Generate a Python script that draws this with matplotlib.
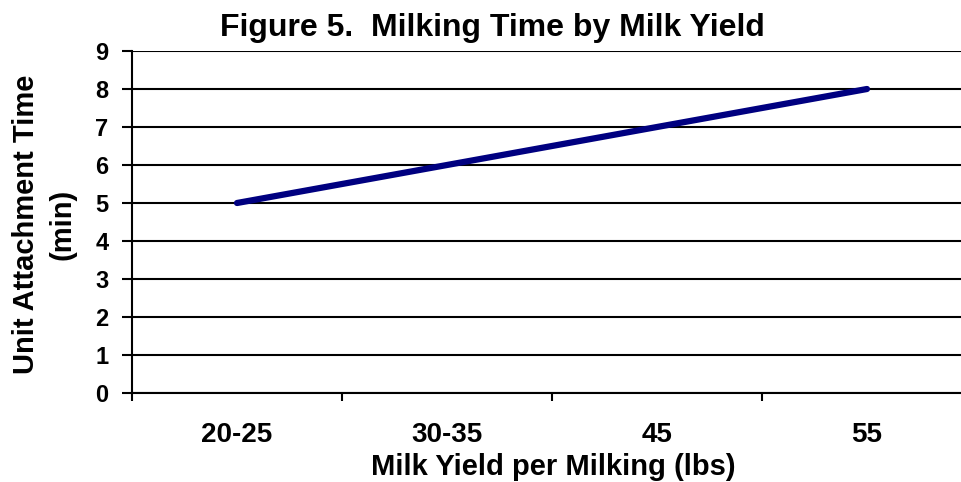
import matplotlib
matplotlib.use("Agg")
import matplotlib.pyplot as plt

categories = ["20-25", "30-35", "45", "55"]
values = [5, 6, 7, 8]
yticks = list(range(0, 10))

plt.rcParams['font.family'] = ['Liberation Sans', 'DejaVu Sans']
plt.rcParams['font.weight'] = 'bold'

fig = plt.figure(figsize=(9.62, 4.82), dpi=100)
W, H = 962, 482
ax = fig.add_axes([132 / W, 89 / H, 840 / W, 342 / H])

x = list(range(len(categories)))
ax.plot(x, values, color='#000080', lw=4.5, solid_capstyle='round', zorder=3)

ax.set_xlim(-0.5, len(categories) - 0.5)
ax.set_ylim(0, 9)
ax.set_yticks(yticks)
ax.set_yticklabels([str(t) for t in yticks], fontsize=17, fontweight='bold')
ax.set_xticks(x)
ax.set_xticklabels(categories, fontsize=20, fontweight='bold')
ax.tick_params(axis='x', length=0, pad=21)
ax.set_xticks([i - 0.5 for i in range(len(categories) + 1)], minor=True)
ax.tick_params(axis='x', which='minor', length=6, width=1.5, direction='out')
ax.tick_params(axis='y', length=7, width=1.5, direction='out', pad=10)

for t in yticks:
    ax.axhline(t, color='black', lw=1.5, zorder=1)

for s in ['top', 'right']:
    ax.spines[s].set_visible(False)
ax.spines['left'].set_linewidth(1.5)
ax.spines['bottom'].set_linewidth(1.5)

fig.text(553 / W, 1 - 467 / H, "Milk Yield per Milking (lbs)", fontsize=21,
         fontweight='bold', ha='center', va='center')
fig.text(44 / W, 1 - 224 / H, "Unit Attachment Time\n(min)", fontsize=21,
         fontweight='bold', ha='center', va='center', rotation=90,
         multialignment='center', linespacing=1.4)
fig.text(492 / W, 1 - 28 / H, "Figure 5.  Milking Time by Milk Yield", fontsize=23,
         fontweight='bold', ha='center', va='center')

fig.savefig("out.png", dpi=100)
